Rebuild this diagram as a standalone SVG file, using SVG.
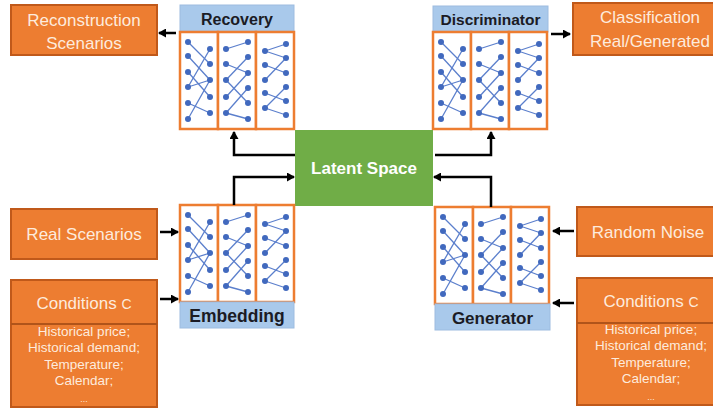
<svg xmlns="http://www.w3.org/2000/svg" xmlns:xlink="http://www.w3.org/1999/xlink" width="713" height="410" viewBox="0 0 713 410">
<style>
.obox{fill:#ED7D31;stroke:#C0591A;stroke-width:2}
.otxt{font-family:"Liberation Sans",Arial,sans-serif;font-size:17px;fill:#FDEBDD;text-anchor:middle}
.stxt{font-family:"Liberation Sans",Arial,sans-serif;font-size:13.5px;fill:#FDEBDD;text-anchor:middle}
.dots{font-family:"Liberation Sans",Arial,sans-serif;font-size:9px;fill:#FDEBDD;text-anchor:middle}
.hdr{fill:#A9C9EB;stroke:#9DBCE0;stroke-width:1}
.htxt{font-family:"Liberation Sans",Arial,sans-serif;font-weight:bold;fill:#1B1B24;text-anchor:middle}
.col{fill:#fff;stroke:#ED7D31;stroke-width:2.5}
.ln{stroke:#5B7FCC;stroke-width:1.3;fill:none}
.dot{fill:#4169BE}
.arr{stroke:#000;stroke-width:2.5;fill:none;marker-end:url(#ah)}
</style>
<defs>
<marker id="ah" markerUnits="userSpaceOnUse" markerWidth="9" markerHeight="9" refX="7" refY="4.5" orient="auto">
<path d="M0,0 L8,4.5 L0,9 Z" fill="#000"/>
</marker>
<g id="net">
<rect class="col" x="0" y="0" width="38" height="97"/>
<rect class="col" x="38" y="0" width="38" height="97"/>
<rect class="col" x="76" y="0" width="38" height="97"/>
<g class="ln">
<line x1="8" y1="10" x2="30" y2="32"/>
<line x1="8" y1="24" x2="30" y2="48"/>
<line x1="30" y1="17" x2="8" y2="55"/>
<line x1="8" y1="40" x2="30" y2="65"/>
<line x1="8" y1="55" x2="30" y2="48"/>
<line x1="30" y1="48" x2="8" y2="87"/>
<line x1="8" y1="71" x2="30" y2="81"/>
<line x1="46" y1="17" x2="68" y2="10"/>
<line x1="46" y1="32" x2="68" y2="41"/>
<line x1="68" y1="25" x2="46" y2="48"/>
<line x1="68" y1="41" x2="46" y2="65"/>
<line x1="46" y1="48" x2="68" y2="71"/>
<line x1="68" y1="56" x2="46" y2="81"/>
<line x1="46" y1="81" x2="68" y2="87"/>
<line x1="85" y1="19" x2="106" y2="12"/>
<line x1="85" y1="19" x2="106" y2="26"/>
<line x1="106" y1="26" x2="85" y2="48"/>
<line x1="85" y1="33" x2="106" y2="41"/>
<line x1="85" y1="61" x2="106" y2="69"/>
<line x1="106" y1="55" x2="85" y2="76"/>
<line x1="85" y1="76" x2="106" y2="83"/>
</g>
<g class="dot">
<circle cx="8" cy="10" r="3"/><circle cx="8" cy="24" r="3"/><circle cx="8" cy="40" r="3"/><circle cx="8" cy="55" r="3"/><circle cx="8" cy="71" r="3"/><circle cx="8" cy="87" r="3"/>
<circle cx="30" cy="17" r="3"/><circle cx="30" cy="32" r="3"/><circle cx="30" cy="48" r="3"/><circle cx="30" cy="65" r="3"/><circle cx="30" cy="81" r="3"/>
<circle cx="46" cy="17" r="3"/><circle cx="46" cy="32" r="3"/><circle cx="46" cy="48" r="3"/><circle cx="46" cy="65" r="3"/><circle cx="46" cy="81" r="3"/>
<circle cx="68" cy="10" r="3"/><circle cx="68" cy="25" r="3"/><circle cx="68" cy="41" r="3"/><circle cx="68" cy="56" r="3"/><circle cx="68" cy="71" r="3"/><circle cx="68" cy="87" r="3"/>
<circle cx="85" cy="19" r="3"/><circle cx="85" cy="33" r="3"/><circle cx="85" cy="48" r="3"/><circle cx="85" cy="61" r="3"/><circle cx="85" cy="76" r="3"/>
<circle cx="106" cy="12" r="3"/><circle cx="106" cy="26" r="3"/><circle cx="106" cy="41" r="3"/><circle cx="106" cy="55" r="3"/><circle cx="106" cy="69" r="3"/><circle cx="106" cy="83" r="3"/>
</g>
</g>
</defs>
<rect width="713" height="410" fill="#fff"/>

<g id="reconstruction">
<rect class="obox" x="11" y="5" width="146" height="50"/>
<text class="otxt" x="84" y="26">Reconstruction</text>
<text class="otxt" x="84" y="49">Scenarios</text>
</g>

<g id="recovery">
<rect class="hdr" x="180" y="5" width="114" height="27"/>
<text class="htxt" x="237" y="25" font-size="16">Recovery</text>
<use href="#net" x="180" y="32"/>
</g>

<g id="discriminator">
<rect class="hdr" x="433" y="6" width="115" height="26"/>
<text class="htxt" x="490.5" y="25" font-size="15.5">Discriminator</text>
<use href="#net" x="433" y="32"/>
</g>

<g id="classification">
<rect class="obox" x="573" y="3" width="142" height="52"/>
<text class="otxt" x="650" y="23">Classification</text>
<text class="otxt" x="650" y="47">Real/Generated</text>
</g>

<g id="latent">
<rect x="295" y="130" width="138" height="76" fill="#70AD47"/>
<text x="364" y="174" font-family="Liberation Sans,Arial,sans-serif" font-weight="bold" font-size="17" fill="#fff" text-anchor="middle">Latent Space</text>
</g>

<g id="embedding">
<use href="#net" x="180" y="205"/>
<rect class="hdr" x="180" y="302" width="114" height="26"/>
<text class="htxt" x="237" y="322" font-size="17.5">Embedding</text>
</g>

<g id="generator">
<use href="#net" x="435" y="207"/>
<rect class="hdr" x="435" y="304" width="115" height="26"/>
<text class="htxt" x="492.5" y="324" font-size="17">Generator</text>
</g>

<g id="real-scenarios">
<rect class="obox" x="11" y="209" width="146" height="50"/>
<text class="otxt" x="84" y="240">Real Scenarios</text>
</g>

<g id="conditions-left">
<rect class="obox" x="11" y="280" width="146" height="127"/>
<line x1="11" y1="324" x2="157" y2="324" stroke="#B0541A" stroke-width="2"/>
<text class="otxt" x="84" y="309">Conditions <tspan font-size="14">C</tspan></text>
<text class="stxt" x="84" y="336">Historical price;</text>
<text class="stxt" x="84" y="352">Historical demand;</text>
<text class="stxt" x="84" y="369">Temperature;</text>
<text class="stxt" x="84" y="385">Calendar;</text>
<text class="dots" x="84" y="402">...</text>
</g>

<g id="random-noise">
<rect class="obox" x="577" y="207" width="138" height="49"/>
<text class="otxt" x="648" y="238">Random Noise</text>
</g>

<g id="conditions-right">
<rect class="obox" x="577" y="278" width="138" height="127"/>
<line x1="577" y1="323" x2="713" y2="323" stroke="#B0541A" stroke-width="2"/>
<text class="otxt" x="651" y="307">Conditions <tspan font-size="14">C</tspan></text>
<text class="stxt" x="651" y="334">Historical price;</text>
<text class="stxt" x="651" y="350">Historical demand;</text>
<text class="stxt" x="651" y="367">Temperature;</text>
<text class="stxt" x="651" y="383">Calendar;</text>
<text class="dots" x="651" y="400">...</text>
</g>

<g id="connectors">
<path class="arr" d="M176,33 H159"/>
<path class="arr" d="M551,34 H570"/>
<path class="arr" d="M160,232 H178"/>
<path class="arr" d="M160,299 H178"/>
<path class="arr" d="M574,231 H553"/>
<path class="arr" d="M574,303 H553"/>
<path class="arr" d="M295,155 H234 V132"/>
<path class="arr" d="M234,205 V177 H294"/>
<path class="arr" d="M435,155 H491 V132"/>
<path class="arr" d="M491,207 V177 H434"/>
</g>
</svg>
